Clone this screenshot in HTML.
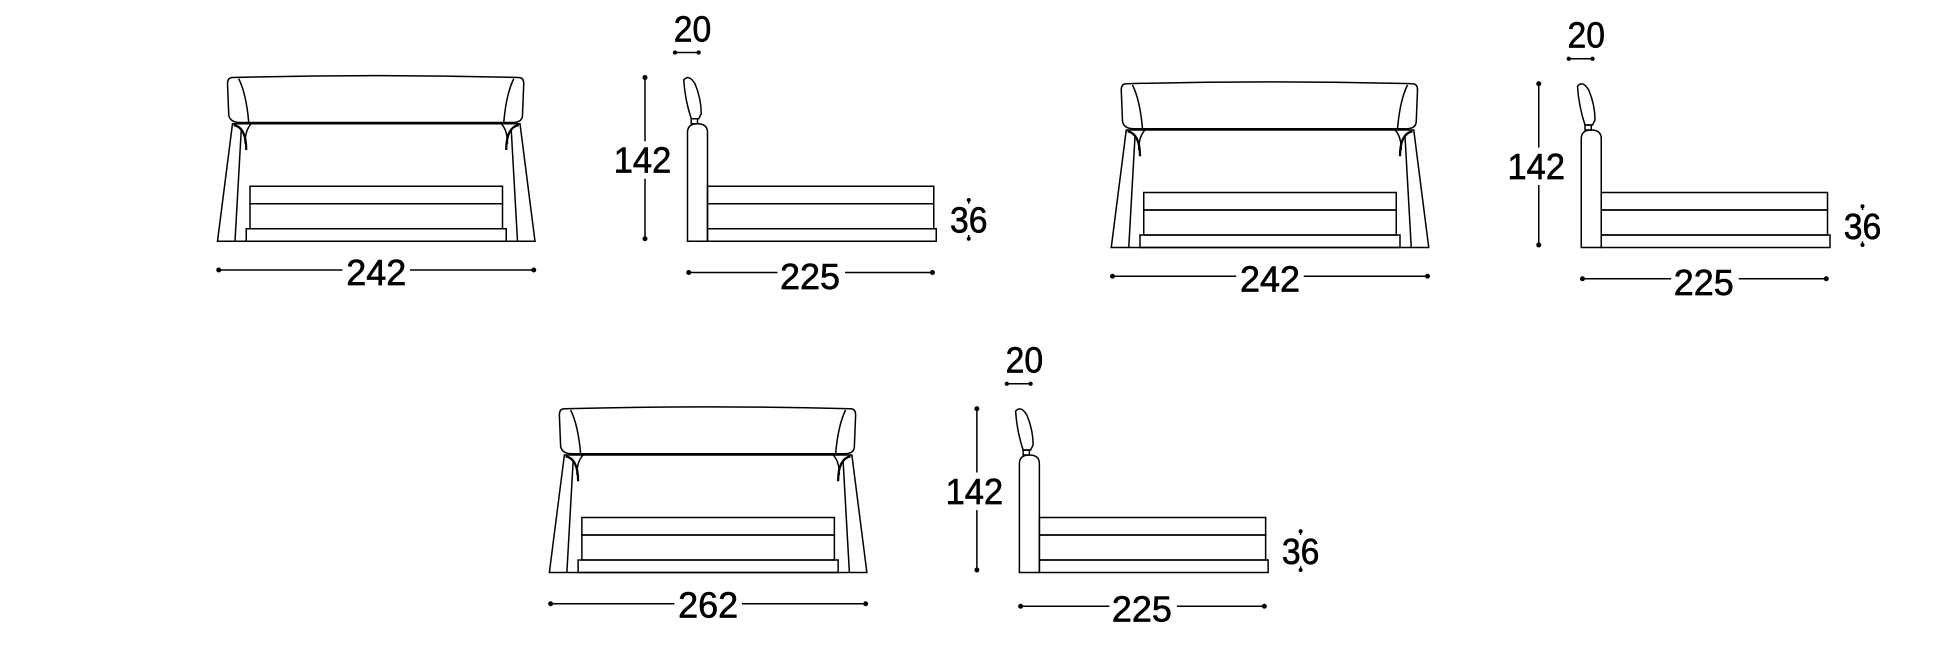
<!DOCTYPE html>
<html><head><meta charset="utf-8"><style>
html,body{margin:0;padding:0;background:#fff;}
svg{display:block;}
text{font-family:"Liberation Sans",sans-serif;font-size:29px;fill:#000;stroke:#000;stroke-width:0.5;text-anchor:middle;}
</style></head><body>
<svg width="1950" height="663" viewBox="0 0 1560 530.4" preserveAspectRatio="none" xmlns="http://www.w3.org/2000/svg">
<defs>
<g id="draw" fill="none" stroke="#000" stroke-width="1.2">
  <path d="M186,62 Q182,62 182,67 L183,92 Q184,98 192,98 L410,98 Q418,98 418,92 L419,67 Q419,62 415,62 Q300,59 186,62 Z"/>
  <path d="M191,63 Q197,75 199,98"/>
  <path d="M411,63 Q405,75 403,98"/>
  <path d="M186,99 L174,193 L428,193 L416,99 Z"/>
  <path d="M193,104 L188,193"/>
  <path d="M409,104 L414,193"/>
  <path d="M187,100 Q197,102 197,120" stroke-width="1.8"/>
  <path d="M201,99 Q196,104 196,115"/>
  <path d="M415,100 Q405,102 405,120" stroke-width="1.8"/>
  <path d="M401,99 Q406,104 406,115"/>
  <rect x="200" y="149" width="202" height="14"/>
  <rect x="200" y="163" width="202" height="20"/>
  <rect x="197" y="183" width="208" height="10"/>
  <path d="M547,64 Q551,59 556,67 Q561,79 561,91 L559,95 L553,95 Q548,80 547,64 Z"/>
  <rect x="553" y="95" width="5" height="4"/>
  <path d="M550,193 L550,106 Q550,99 558,99 Q566,99 566,106 L566,193 Z"/>
  <rect x="566" y="149" width="181" height="14"/>
  <rect x="566" y="163" width="181" height="20"/>
  <rect x="566" y="183" width="183" height="10"/>
  <line x1="516" y1="62" x2="516" y2="113"/>
  <line x1="516" y1="143" x2="516" y2="191"/>
  <line x1="540" y1="42" x2="559" y2="42"/>
  <line x1="775" y1="159" x2="775" y2="163"/>
  <line x1="775" y1="188" x2="775" y2="192"/>
  <g fill="#000" stroke="none">
    <circle cx="516" cy="62" r="2"/><circle cx="516" cy="191" r="2"/>
    <circle cx="540" cy="42" r="1.7"/><circle cx="559" cy="42" r="1.7"/>
    <circle cx="775" cy="160" r="1.6"/><circle cx="775" cy="191" r="1.6"/>
  </g>
</g>
<g id="labels">
  <text x="514" y="138" textLength="46" lengthAdjust="spacingAndGlyphs">142</text>
  <text x="554" y="33" textLength="30" lengthAdjust="spacingAndGlyphs">20</text>
  <text x="775" y="186" textLength="30" lengthAdjust="spacingAndGlyphs">36</text>
</g>
</defs>

<!-- set 1 -->
<use href="#draw"/><use href="#labels"/>
<g fill="none" stroke="#000" stroke-width="1.2">
  <line x1="175" y1="216" x2="274" y2="216"/><line x1="328" y1="216" x2="427" y2="216"/>
  <line x1="551" y1="218" x2="622" y2="218"/><line x1="676" y1="218" x2="746" y2="218"/>
</g>
<g fill="#000"><circle cx="175" cy="216" r="2"/><circle cx="427" cy="216" r="2"/><circle cx="551" cy="218" r="2"/><circle cx="746" cy="218" r="2"/></g>
<text x="301" y="228" textLength="48" lengthAdjust="spacingAndGlyphs">242</text>
<text x="648" y="231" textLength="48" lengthAdjust="spacingAndGlyphs">225</text>

<!-- set 2 -->
<g transform="translate(715,5)">
<use href="#draw"/><use href="#labels"/>
<g fill="none" stroke="#000" stroke-width="1.2">
  <line x1="175" y1="216" x2="274" y2="216"/><line x1="328" y1="216" x2="427" y2="216"/>
  <line x1="551" y1="218" x2="622" y2="218"/><line x1="676" y1="218" x2="746" y2="218"/>
</g>
<g fill="#000"><circle cx="175" cy="216" r="2"/><circle cx="427" cy="216" r="2"/><circle cx="551" cy="218" r="2"/><circle cx="746" cy="218" r="2"/></g>
<text x="301" y="228" textLength="48" lengthAdjust="spacingAndGlyphs">242</text>
<text x="648" y="231" textLength="48" lengthAdjust="spacingAndGlyphs">225</text>
</g>

<!-- set 3 -->
<g transform="translate(265.5,265)">
<use href="#draw"/><use href="#labels"/>
<g fill="none" stroke="#000" stroke-width="1.2">
  <line x1="175" y1="218" x2="274" y2="218"/><line x1="328" y1="218" x2="427" y2="218"/>
  <line x1="551" y1="220" x2="622" y2="220"/><line x1="676" y1="220" x2="746" y2="220"/>
</g>
<g fill="#000"><circle cx="175" cy="218" r="2"/><circle cx="427" cy="218" r="2"/><circle cx="551" cy="220" r="2"/><circle cx="746" cy="220" r="2"/></g>
<text x="301" y="229" textLength="48" lengthAdjust="spacingAndGlyphs">262</text>
<text x="648" y="232" textLength="48" lengthAdjust="spacingAndGlyphs">225</text>
</g>
</svg>
</body></html>
